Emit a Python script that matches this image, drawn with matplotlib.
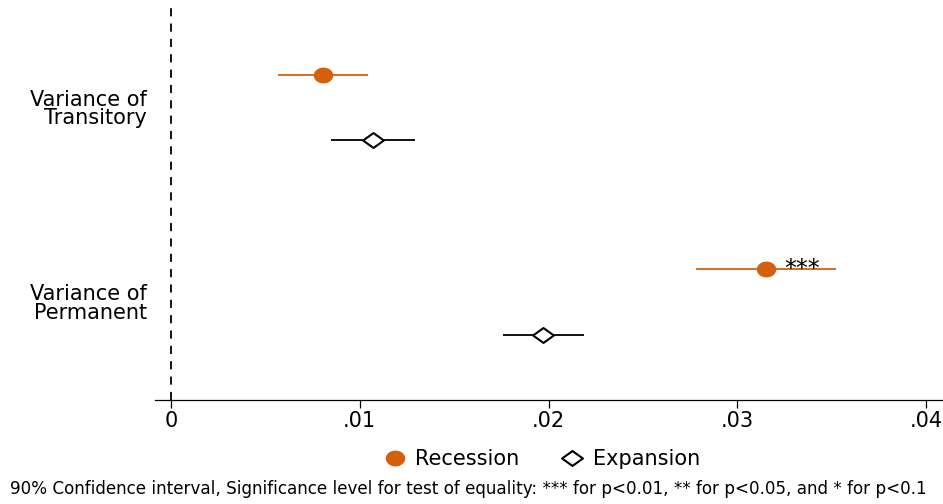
import numpy as np
import matplotlib.pyplot as plt
from matplotlib.path import Path

plt.rcParams['font.family'] = ['DejaVu Sans']

# Estimates and 90% confidence bounds
categories = ['Variance of\nTransitory', 'Variance of\nPermanent']
recession_est = [0.00804, 0.03151]
recession_lo = [0.00569, 0.02780]
recession_hi = [0.01046, 0.03525]
expansion_est = [0.01069, 0.01973]
expansion_lo = [0.00846, 0.01759]
expansion_hi = [0.01293, 0.02186]
stars = ['', '***']

xticks = [0, 0.01, 0.02, 0.03, 0.04]
xticklabels = ['0', '.01', '.02', '.03', '.04']

orange = '#d5600c'
ypos = np.arange(len(categories))
off = 0.168

# slightly wide marker shapes
t = np.linspace(0, 2 * np.pi, 60)
wide_dot = Path(np.column_stack([1.25 * np.cos(t), np.sin(t)]), closed=True)
wide_diamond = Path([(-1.4, 0), (0, 1), (1.4, 0), (0, -1), (-1.4, 0)], closed=True)

fig = plt.figure(figsize=(9.43, 5.04), dpi=100)
ax = fig.add_axes([155 / 943, 104 / 504, 788 / 943, 392 / 504])

ax.axvline(0, color='black', lw=1.3, ls=(0, (4.5, 4)), zorder=1)

rec_y = ypos - off
exp_y = ypos + off
ax.hlines(rec_y, recession_lo, recession_hi, color=orange, lw=1.3, zorder=2)
ax.plot(recession_est, rec_y, ls='none', marker=wide_dot, color=orange,
        ms=13, zorder=3, label='Recession')
ax.hlines(exp_y, expansion_lo, expansion_hi, color='black', lw=1.3, zorder=2)
ax.plot(expansion_est, exp_y, ls='none', marker=wide_diamond, mfc='white',
        mec='black', mew=1.5, ms=15, zorder=3, label='Expansion')

for x, y, s in zip(recession_est, rec_y, stars):
    if s:
        ax.text(x + 0.00098, y + 0.0, s, fontsize=17, ha='left', va='center')

ax.set_xlim(-0.00085, 0.0409)
ax.set_ylim(1.504, -0.513)
ax.set_yticks(ypos)
ax.set_yticklabels(categories, fontsize=15, linespacing=0.92)
ax.tick_params(axis='y', length=0, pad=6)
ax.set_xticks(xticks)
ax.set_xticklabels(xticklabels, fontsize=15)
ax.tick_params(axis='x', length=6, width=0.9, pad=2)

for side in ['top', 'right', 'left']:
    ax.spines[side].set_visible(False)
ax.spines['bottom'].set_linewidth(0.9)

fig.legend(loc='center', bbox_to_anchor=(542 / 943, 1 - 459 / 504),
           ncol=2, frameon=False, fontsize=15, handletextpad=0.5,
           columnspacing=2.0, handlelength=1.0)

fig.text(10 / 943, 1 - 489 / 504,
         '90% Confidence interval, Significance level for test of equality: '
         '*** for p<0.01, ** for p<0.05, and * for p<0.1',
         fontsize=12.1, ha='left', va='center')

fig.savefig('out.png', dpi=100, facecolor='white')
